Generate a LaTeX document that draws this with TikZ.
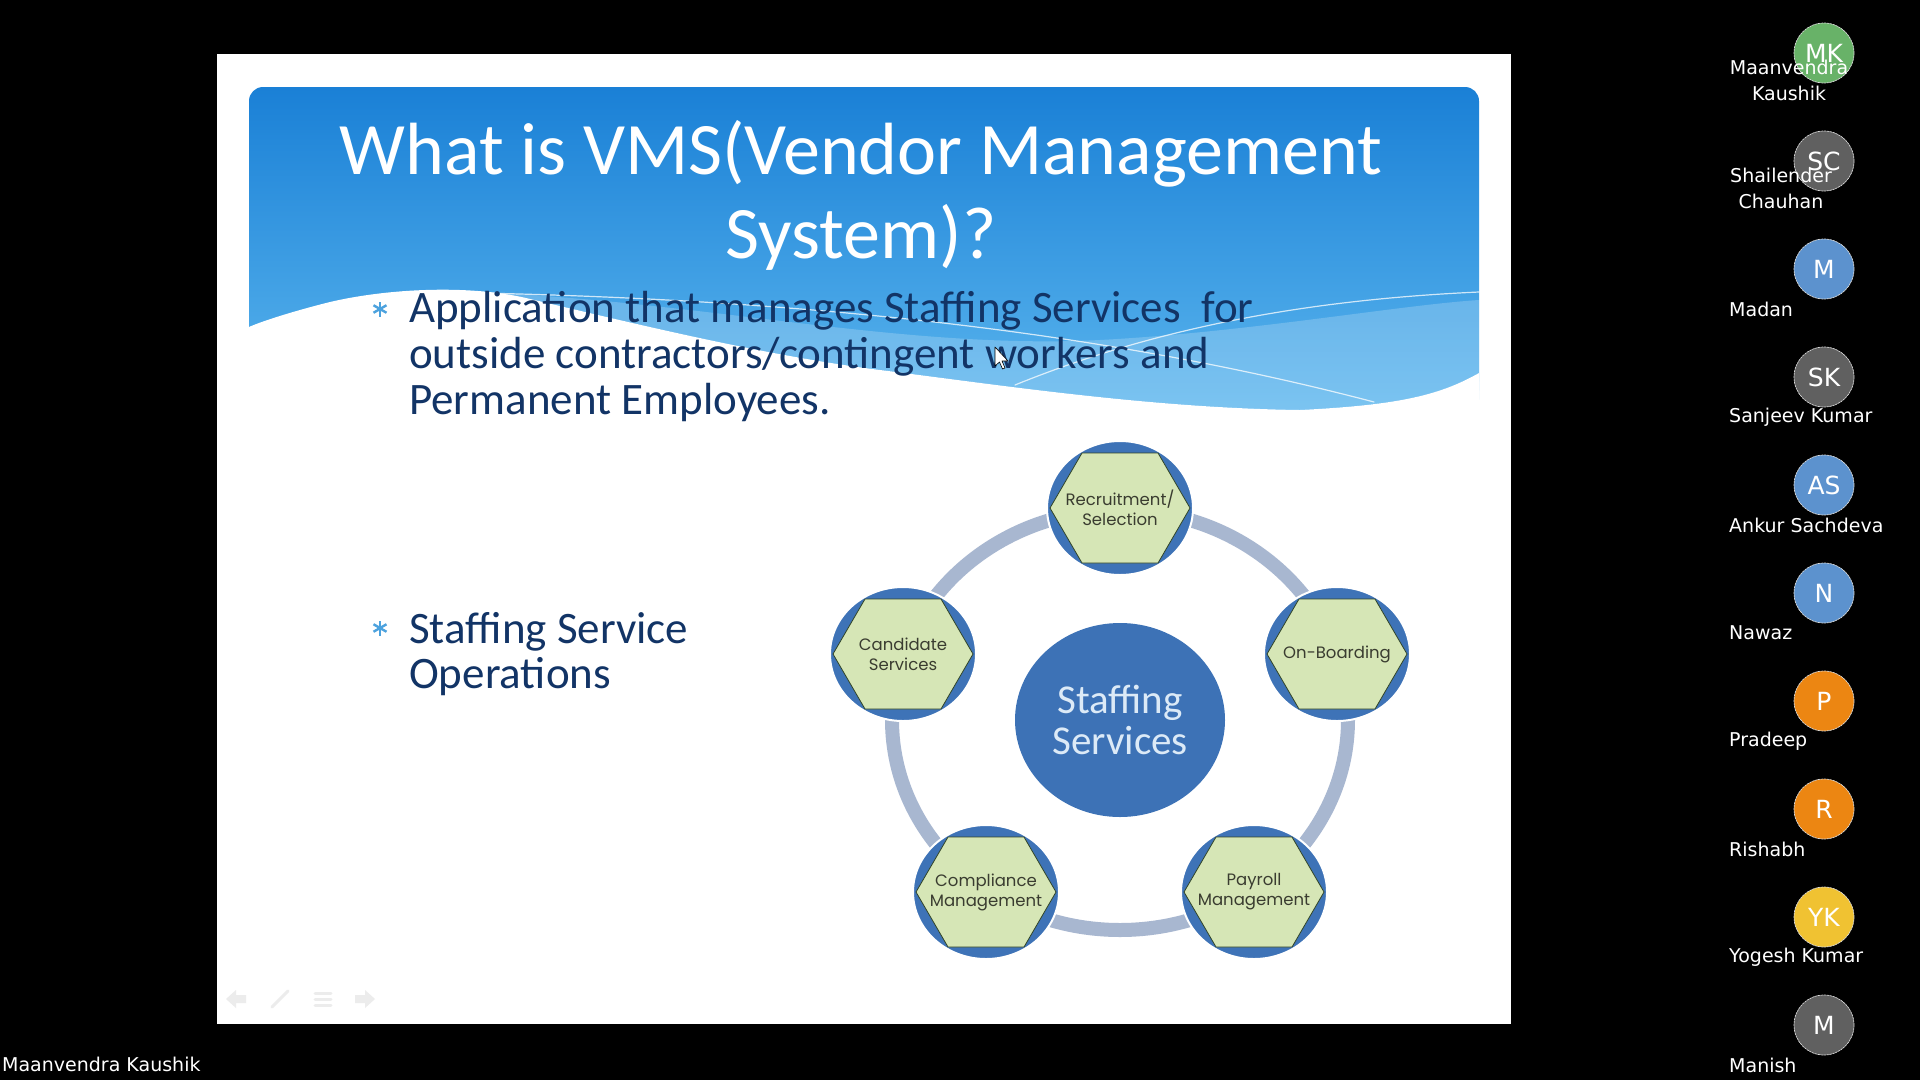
\documentclass[tikz,border=0pt]{standalone}
\usepackage{fontspec}
\setmainfont{Carlito}
\newfontfamily\satfont{Poppins}
\newfontfamily\uifont{DejaVu Sans}
\usetikzlibrary{shapes.geometric}

\definecolor{headtop}{RGB}{26,128,214}
\definecolor{headbot}{RGB}{96,186,240}
\definecolor{navy}{RGB}{18,52,102}
\definecolor{starblue}{RGB}{76,162,222}
\definecolor{hubblue}{RGB}{61,114,182}
\definecolor{hubtext}{RGB}{220,234,247}
\definecolor{satblue}{RGB}{62,115,183}
\definecolor{hexgreen}{RGB}{214,230,182}
\definecolor{hexedge}{RGB}{48,68,40}
\definecolor{sattext}{RGB}{58,60,48}
\definecolor{ringgrey}{RGB}{168,183,208}
\definecolor{avgreen}{RGB}{104,178,104}
\definecolor{avgrey}{RGB}{96,96,96}
\definecolor{avblue}{RGB}{92,146,206}
\definecolor{avorange}{RGB}{236,134,18}
\definecolor{avyellow}{RGB}{240,194,50}
\definecolor{navgrey}{RGB}{236,236,236}

\tikzset{
  titletext/.style={text=white, font=\fontsize{74}{84}\selectfont, inner sep=0pt},
  bullettext/.style={text=navy, font=\fontsize{45}{46}\selectfont, inner sep=0pt},
  star/.style={draw=starblue, line width=2.4pt, line cap=butt},
  hub/.style={ellipse, minimum width=210, minimum height=194, inner sep=0pt, fill=hubblue,
    text=hubtext, align=center, font=\fontsize{41}{41}\selectfont},
  sat/.style={ellipse, minimum width=146, minimum height=134, inner sep=0pt, fill=satblue,
    draw=white, line width=2pt},
  hex/.style={fill=hexgreen, draw=hexedge, line width=0.8pt},
  satlabel/.style={align=center, text=sattext, inner sep=0pt, font=\satfont\fontsize{16.5}{20}\selectfont},
  ring/.style={draw=ringgrey, line width=14pt},
  waveline/.style={draw=white, line width=1.2pt, opacity=0.75},
  avatar/.style={circle, minimum size=60, inner sep=0pt, draw=white!85!black, line width=0.7pt,
    dash pattern=on 2pt off 1pt, text=white, font=\uifont\fontsize{25}{25}\selectfont},
  person/.style={text=white, inner sep=0pt, font=\uifont\fontsize{19}{26}\selectfont}
}

\begin{document}
\begin{tikzpicture}[x=1pt, y=-1pt, line join=round, line cap=round]
	\useasboundingbox (0,0) rectangle (1920,1080);
	\fill[black] (0,0) rectangle (1920,1080);
	% slide
	\fill[white] (217,54) rectangle (1511,1024);
	\shade[top color=headtop, bottom color=headbot, rounded corners=14] (249,87) rectangle (1479,440);
	\fill[white] (249,327) .. controls (260,322) and (290,312) .. (330,302)
		.. controls (390,288) and (470,285) .. (526,298)
		.. controls (620,320) and (760,355) .. (880,370)
		.. controls (1000,385) and (1150,408) .. (1300,410)
		.. controls (1400,405) and (1440,395) .. (1479,373)
		-- (1481,446) -- (247,446) -- cycle;
	\fill[white, opacity=0.2] (470,292) .. controls (700,300) and (900,350) .. (1100,340)
		.. controls (1250,332) and (1400,305) .. (1479,300) -- (1479,373)
		.. controls (1440,395) and (1400,405) .. (1300,410)
		.. controls (1150,408) and (1000,385) .. (880,370)
		.. controls (760,355) and (620,320) .. (526,298) -- cycle;
	\draw[waveline] (1015,385) .. controls (1150,330) and (1300,300) .. (1479,292);
	\draw[waveline] (480,293) .. controls (800,300) and (1100,330) .. (1374,402);

	% title and bullets
	\node[titletext, anchor=base] (t1) at (861,174) {What is VMS(Vendor Management};
	\node[titletext, anchor=base] (t2) at (861,258) {System)?};
	\coordinate (s1) at (380,309);
	\coordinate (s2) at (380,628);
	\foreach \s in {s1,s2}
	\foreach \a in {90,30,150}
	\draw[star, shift={(\s)}] (\a:7.5) -- (\a+180:7.5);
	\node[bullettext, anchor=base west] (b1) at (409,322) {Application that manages Staffing Services\ \ for};
	\node[bullettext, anchor=base west] (b2) at (409,368) {outside contractors/contingent workers and};
	\node[bullettext, anchor=base west] (b3) at (409,414) {Permanent Employees.};
	\node[bullettext, anchor=base west] (b4) at (409,643) {Staffing Service};
	\node[bullettext, anchor=base west] (b5) at (409,688) {Operations};

	% staffing services wheel
	\coordinate (C) at (1120,720);
	\coordinate (R) at (1120,508);
	\coordinate (O) at (1337,654);
	\coordinate (P) at (1254,892);
	\coordinate (M) at (986,892);
	\coordinate (D) at (903,654);
	\draw[ring] (C) ellipse [x radius=228, y radius=210];
	\node[hub] (hub) at (C) {Staffing\\Services};
	\foreach \n/\p in {rec/R, onb/O, pay/P, com/M, can/D}{
		\node[sat] (\n) at (\p) {};
		\draw[hex, shift={(\n.center)}] (-70,0) -- (-38,55) -- (38,55) -- (70,0) -- (38,-55) -- (-38,-55) -- cycle;
	}
	\node[satlabel] (rec-l) at (rec) {Recruitment/\\Selection};
	\node[satlabel] (onb-l) at (onb) {On-Boarding};
	\node[satlabel] (pay-l) at (pay) {Payroll\\Management};
	\node[satlabel] (com-l) at (com) {Compliance\\Management};
	\node[satlabel] (can-l) at (can) {Candidate\\Services};

	% slide controls and pointer
	\fill[navgrey] (226,999) -- (236,990) -- (236,995) -- (246,995) -- (246,1003) -- (236,1003) -- (236,1008) -- cycle;
	\draw[navgrey, line width=3pt] (272,1007) -- (288,991);
	\foreach \yy in {993,999,1005}
	\draw[navgrey, line width=3pt] (315,\yy) -- (331,\yy);
	\fill[navgrey] (375,999) -- (365,990) -- (365,995) -- (355,995) -- (355,1003) -- (365,1003) -- (365,1008) -- cycle;
	\draw[fill=white, draw=black, line width=0.6pt, shift={(995,347)}]
		(0,0) -- (0,19) -- (4.5,15) -- (7.5,22) -- (10,21) -- (7,14) -- (13,14) -- cycle;

	% participants
	\foreach \ini/\col [count=\i from 0] in {MK/avgreen, SC/avgrey, M/avblue, SK/avgrey, AS/avblue,
		N/avblue, P/avorange, R/avorange, YK/avyellow, M/avgrey}
	\node[avatar, fill=\col] (av\i) at (1824,53+108*\i) {\ini};
	\node[person, align=center] (n0) at (1789,80) {Maanvendra\\Kaushik};
	\node[person, align=center] (n1) at (1781,188) {Shailender\\Chauhan};
	\foreach \who [count=\i from 2] in {Madan, Sanjeev Kumar, Ankur Sachdeva, Nawaz, Pradeep,
		Rishabh, Yogesh Kumar, Manish}
	\node[person, anchor=west] (n\i) at (1729,93+108*\i) {\who};
	\node[person, anchor=west] (me) at (2,1064) {Maanvendra Kaushik};
\end{tikzpicture}
\end{document}
